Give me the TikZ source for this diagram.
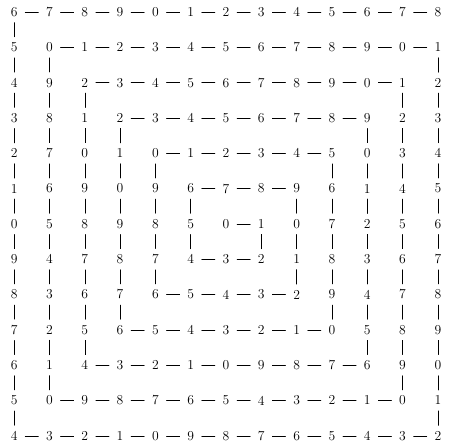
\documentclass[tikz,border=0pt]{standalone}
\begin{document}
\begin{tikzpicture}[font=\fontsize{11}{13}\selectfont, line cap=round,
  dig/.style={inner xsep=6pt, inner ysep=4.5pt}]
  \useasboundingbox (-0.4,-12.3) rectangle (12.4,0.34);
  \xdef\cur{0} \xdef\cx{6} \xdef\cy{-6}
  \node[dig] (n0) at (\cx,\cy) {0};
  % spiral: run length / step in x / step in y
  \foreach \len/\dx/\dy in {1/1/0,1/0/-1,2/-1/0,2/0/1,3/1/0,3/0/-1,4/-1/0,4/0/1,
      5/1/0,5/0/-1,6/-1/0,6/0/1,7/1/0,7/0/-1,8/-1/0,8/0/1,9/1/0,9/0/-1,
      10/-1/0,10/0/1,11/1/0,11/0/-1,12/-1/0,12/0/1,12/1/0}
    \foreach \s in {1,...,\len}{
      \pgfmathtruncatemacro\nxt{\cur+1}
      \pgfmathtruncatemacro\val{mod(\nxt,10)}
      \pgfmathtruncatemacro\px{\cx+\dx}
      \pgfmathtruncatemacro\py{\cy+\dy}
      \node[dig] (n\nxt) at (\px,\py) {\val};
      \draw (n\cur)--(n\nxt);
      \xdef\cur{\nxt} \xdef\cx{\px} \xdef\cy{\py}
    }
\end{tikzpicture}
\end{document}
